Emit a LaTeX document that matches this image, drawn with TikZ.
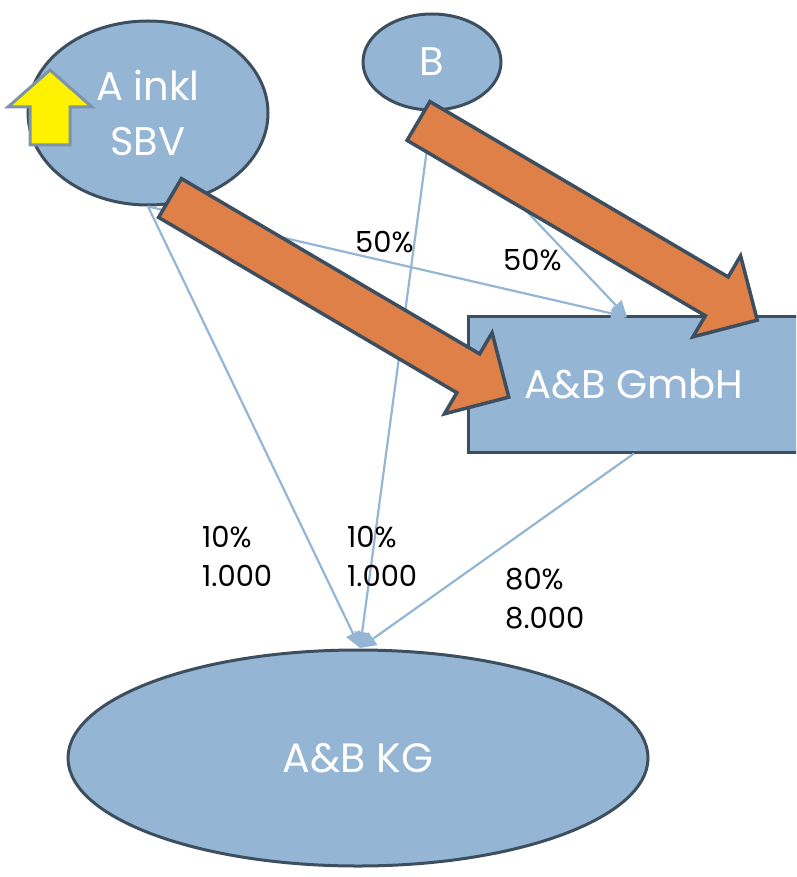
\documentclass[tikz,border=0pt]{standalone}
\usepackage{fontspec}
\setmainfont{Poppins}
\usetikzlibrary{shapes.geometric,arrows.meta,calc}
\definecolor{boxblue}{HTML}{94B5D3}
\definecolor{darkline}{HTML}{3D4F5F}
\definecolor{linkblue}{HTML}{94B6D4}
\definecolor{arroworange}{HTML}{DE8047}
\definecolor{yellowedge}{HTML}{7D93A8}
\tikzset{
  ell/.style={ellipse, draw=darkline, fill=boxblue, line width=3pt, inner sep=0pt, text=white, align=center},
  boxrect/.style={rectangle, draw=darkline, fill=boxblue, line width=3pt, inner sep=0pt, text=white},
  link/.style={draw=linkblue, line width=2.2pt, -{Triangle[length=16pt,width=15pt]}},
  lbl/.style={anchor=base west, inner sep=0pt, font=\fontsize{29}{39}\selectfont, align=left},
  fat/.style={draw=darkline, fill=arroworange, line width=3.5pt, line join=miter},
  bigtxt/.style={font=\fontsize{40}{55}\selectfont},
  midtxt/.style={font=\fontsize{40}{46}\selectfont},
  kgtxt/.style={font=\fontsize{41}{46}\selectfont}
}
\begin{document}
\begin{tikzpicture}[x=1pt,y=-1pt]
\useasboundingbox (0,0) rectangle (796,877);
\clip (0,0) rectangle (796,877);
% shapes
\node[ell, bigtxt, minimum width=240pt, minimum height=184pt] (A) at (148,113) {A inkl\\SBV};
\node[ell, bigtxt, minimum width=138pt, minimum height=96pt] (B) at (432,62) {B};
\node[boxrect, midtxt, minimum width=332pt, minimum height=136pt] (G) at (634,384) {A\&B GmbH};
\node[ell, kgtxt, minimum width=580pt, minimum height=216pt] (K) at (358,758) {A\&B KG};
\coordinate (gtop) at (627,317);
\coordinate (ktop) at (360,648);
% thin connectors
\draw[link] (A.south) -- (gtop);
\draw[link] (B.south) -- (gtop);
\draw[link] (A.south) -- (ktop);
\draw[link] (B.south) -- (ktop);
\draw[link] (G.south) -- (ktop);
% yellow arrow
\draw[draw=yellowedge, fill=yellow, line width=3pt, line join=miter]
  (50,70) -- (92,107) -- (70,107) -- (70,145) -- (30,145) -- (30,107) -- (8,107) -- cycle;
% thick orange arrows
\begin{scope}[shift={(170,198)}, rotate=-30.45]
  \draw[fat] (0,-22.5) -- (346,-22.5) -- (346,-47) -- (393,0) -- (346,47) -- (346,22.5) -- (0,22.5) -- cycle;
\end{scope}
\begin{scope}[shift={(418.5,121)}, rotate=-30.45]
  \draw[fat] (0,-22.5) -- (346,-22.5) -- (346,-47) -- (393,0) -- (346,47) -- (346,22.5) -- (0,22.5) -- cycle;
\end{scope}
% labels
\node[lbl] (l1) at (355,252) {50\%};
\node[lbl] (l2) at (503,270) {50\%};
\node[lbl] (l3) at (202,586) {10\%\\1.000};
\node[lbl] (l4) at (347,586) {10\%\\1.000};
\node[lbl] (l5) at (505,628) {80\%\\8.000};
\end{tikzpicture}
\end{document}
